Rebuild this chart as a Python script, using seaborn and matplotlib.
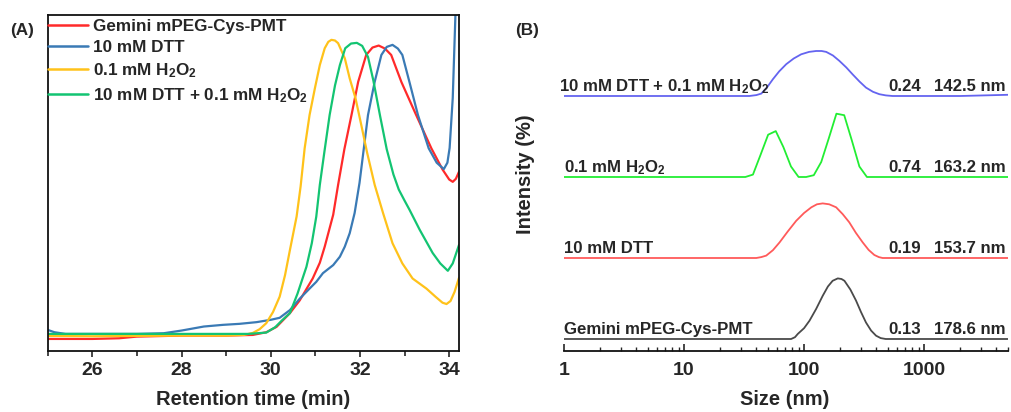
import numpy as np
import pandas as pd
import matplotlib
matplotlib.use("Agg")
import matplotlib.pyplot as plt
import seaborn as sns

# ---------------- Panel A data (GPC traces, retention time in min, normalized signal) -------------
gemini_t = [25.0, 26.0, 26.6, 27.0, 28.0, 29.0, 29.6, 29.9, 30.13, 30.43, 30.65, 30.94, 31.10, 31.21,
            31.40, 31.51, 31.65, 31.81, 31.96, 32.14, 32.28, 32.42, 32.56, 32.70, 32.93, 33.26, 33.60,
            33.85, 34.00, 34.08, 34.15, 34.22]
gemini_y = [0.035, 0.035, 0.037, 0.042, 0.045, 0.045, 0.047, 0.055, 0.071, 0.112, 0.150, 0.215, 0.262, 0.310,
            0.405, 0.494, 0.600, 0.702, 0.801, 0.881, 0.903, 0.909, 0.900, 0.881, 0.800, 0.702, 0.603,
            0.540, 0.510, 0.503, 0.512, 0.533]

dtt_t = [25.0, 25.15, 25.4, 26.0, 27.0, 27.6, 28.0, 28.5, 28.93, 29.3, 29.68, 30.0, 30.2, 30.43, 30.65,
         30.87, 31.02, 31.17, 31.40, 31.55, 31.66, 31.77, 31.88, 31.99, 32.18, 32.33, 32.48, 32.60, 32.73,
         32.85, 32.95, 33.11, 33.30, 33.54, 33.72, 33.88, 33.96, 34.01, 34.08, 34.14, 34.17]
dtt_y = [0.062, 0.055, 0.050, 0.050, 0.050, 0.052, 0.060, 0.072, 0.077, 0.080, 0.085, 0.092, 0.098, 0.121, 0.155,
         0.185, 0.205, 0.231, 0.255, 0.280, 0.310, 0.350, 0.410, 0.500, 0.702, 0.801, 0.881, 0.905, 0.911,
         0.900, 0.881, 0.800, 0.702, 0.603, 0.560, 0.541, 0.560, 0.604, 0.753, 1.000, 1.100]

h2o2_t = [25.0, 26.0, 27.0, 28.0, 29.0, 29.4, 29.6, 29.75, 29.9, 30.05, 30.2, 30.32, 30.43, 30.58, 30.67,
          30.76, 30.87, 30.99, 31.10, 31.21, 31.29, 31.36, 31.44, 31.51, 31.66, 31.77, 31.90, 32.03, 32.16,
          32.33, 32.52, 32.73, 32.95, 33.18, 33.49, 33.70, 33.85, 33.94, 34.03, 34.12, 34.22]
h2o2_y = [0.044, 0.043, 0.044, 0.045, 0.045, 0.047, 0.053, 0.064, 0.082, 0.115, 0.161, 0.225, 0.300, 0.400, 0.490,
          0.603, 0.702, 0.782, 0.851, 0.901, 0.920, 0.926, 0.924, 0.916, 0.871, 0.811, 0.752, 0.672, 0.590,
          0.494, 0.409, 0.320, 0.260, 0.215, 0.185, 0.160, 0.143, 0.139, 0.148, 0.175, 0.217]

mix_t = [25.0, 26.0, 27.0, 28.0, 29.0, 29.5, 29.9, 30.1, 30.25, 30.43, 30.6, 30.8, 30.92, 31.02, 31.10,
         31.20, 31.32, 31.44, 31.55, 31.67, 31.80, 31.93, 32.05, 32.18, 32.30, 32.45, 32.60, 32.75, 32.87,
         33.00, 33.11, 33.34, 33.63, 33.80, 33.97, 34.08, 34.22]
mix_y = [0.050, 0.050, 0.050, 0.050, 0.050, 0.050, 0.054, 0.070, 0.090, 0.112, 0.170, 0.250, 0.320, 0.399, 0.494,
         0.590, 0.702, 0.790, 0.851, 0.901, 0.915, 0.917, 0.908, 0.875, 0.805, 0.700, 0.600, 0.525, 0.480,
         0.447, 0.420, 0.360, 0.291, 0.260, 0.238, 0.260, 0.315]

legend_labels = ["Gemini mPEG-Cys-PMT", "10 mM DTT", "0.1 mM H$_2$O$_2$", "10 mM DTT + 0.1 mM H$_2$O$_2$"]
colors_a = ["#ff2a2a", "#3a7ab5", "#ffc21a", "#13c472"]
xticks_a = [26, 28, 30, 32, 34]

# ---------------- Panel B data (DLS size distributions, intensity %) -------------
black_size = [1, 78, 84, 88.7, 100, 111, 126, 143, 158, 173, 191, 205, 217, 243, 271, 298, 328, 362, 398,
              435, 479, 5000]
black_int = [0, 0, 0.6, 1.7, 3.6, 6.1, 10.0, 14.4, 17.5, 19.4, 20.2, 20.0, 19.4, 16.5, 12.8, 9.0, 5.5, 2.8, 1.1,
             0.3, 0, 0]

red_size = [1, 40, 44, 48.4, 55, 62.5, 73, 86, 100, 115, 128, 143, 162, 185, 210, 238, 270, 308, 345, 385,
            420, 451, 5000]
red_int = [0, 0, 0.3, 0.8, 2.6, 5.2, 8.8, 12.4, 15.0, 16.9, 17.9, 18.2, 17.9, 16.9, 14.6, 11.9, 8.4, 5.2, 2.7, 1.0,
           0.3, 0, 0]

green_size = [1, 32.4, 37.5, 43.4, 50.2, 58.1, 67.2, 77.8, 90, 104, 120.5, 139, 161, 186, 216, 250, 289, 334, 5000]
green_int = [0, 0, 0.8, 7.4, 14.1, 15.3, 10.0, 3.5, 0, 0, 0.6, 5.0, 13.0, 21.1, 20.6, 12.2, 3.5, 0, 0]

blue_size = [1, 35, 40, 44, 49, 55, 62, 71, 82, 94.6, 110, 126, 140, 153, 174, 197, 225, 254, 290, 328, 375,
             424, 480, 546, 2000, 5000]
blue_int = [0, 0, 0.3, 0.8, 2.8, 5.6, 8.2, 10.6, 12.5, 13.9, 14.7, 15.0, 15.0, 14.7, 13.5, 11.7, 9.5, 7.2, 4.8,
            2.8, 1.4, 0.6, 0.2, 0, 0, 0.4]

dls_names = ["Gemini mPEG-Cys-PMT", "10 mM DTT", "0.1 mM H$_2$O$_2$", "10 mM DTT + 0.1 mM H$_2$O$_2$"]
dls_pdi = ["0.13", "0.19", "0.74", "0.24"]
dls_size = ["178.6 nm", "153.7 nm", "163.2 nm", "142.5 nm"]
dls_offsets = [0, 27, 54, 81]
colors_b = ["#4a4a4a", "#ff5a5a", "#22ee33", "#6464f0"]
xticks_b = [1, 10, 100, 1000]

# ---------------- style -------------
sns.set_style("ticks")
plt.rcParams["font.family"] = ["Liberation Sans", "DejaVu Sans"]
plt.rcParams["font.weight"] = "bold"
plt.rcParams["mathtext.fontset"] = "custom"
plt.rcParams["mathtext.rm"] = "Liberation Sans:bold"
plt.rcParams["mathtext.bf"] = "Liberation Sans:bold"
plt.rcParams["mathtext.it"] = "Liberation Sans:bold"
plt.rcParams["mathtext.default"] = "rm"

fig = plt.figure(figsize=(10.11, 4.12), dpi=100)
axA = fig.add_axes([0.0472, 0.1488, 0.4068, 0.8148])
axB = fig.add_axes([0.5579, 0.1488, 0.4391, 0.8148])

# ---- Panel A ----
series_a = [(gemini_t, gemini_y), (dtt_t, dtt_y), (h2o2_t, h2o2_y), (mix_t, mix_y)]
for (t, y), lab, c in zip(series_a, legend_labels, colors_a):
    df = pd.DataFrame({"t": t, "y": y})
    sns.lineplot(data=df, x="t", y="y", ax=axA, color=c, lw=1.6, label=lab, sort=False, estimator=None)
axA.set_xlim(25.0, 34.22)
axA.set_ylim(0, 1)
axA.set_xticks(xticks_a)
axA.set_xticks([25, 27, 29, 31, 33], minor=True)
axA.set_xticklabels([str(v) for v in xticks_a], fontsize=14, fontweight="bold")
axA.set_yticks([])
axA.tick_params(axis="x", which="major", direction="out", length=4, width=1.2, pad=4)
axA.tick_params(axis="x", which="minor", direction="out", length=3.5, width=1.2)
for s in axA.spines.values():
    s.set_linewidth(1.3)
    s.set_color("#111111")
axA.set_xlabel("Retention time (min)", fontsize=14.5, fontweight="bold", va="top")
axA.xaxis.set_label_coords(0.499, -0.118)
axA.set_ylabel("")
leg = axA.legend(loc="upper left", bbox_to_anchor=(-0.0097, 1.0), frameon=False, fontsize=12.3,
                 borderpad=0.0, borderaxespad=0.24, handlelength=2.35, handletextpad=0.3,
                 labelspacing=0.36)
for txt in leg.get_texts():
    txt.set_fontweight("bold")
for ln in leg.get_lines():
    ln.set_linewidth(1.8)

# ---- Panel B ----
series_b = [(black_size, black_int), (red_size, red_int), (green_size, green_int), (blue_size, blue_int)]
for (sz, it), off, c in zip(series_b, dls_offsets, colors_b):
    df = pd.DataFrame({"size": sz, "intensity": np.array(it) + off})
    sns.lineplot(data=df, x="size", y="intensity", ax=axB, color=c, lw=1.3, sort=False, estimator=None)
axB.set_xscale("log")
axB.set_xlim(1, 5000)
axB.set_ylim(-3.9, 108)
axB.set_xticks(xticks_b)
axB.set_xticklabels([str(v) for v in xticks_b], fontsize=14, fontweight="bold")
axB.set_yticks([])
axB.tick_params(axis="x", which="major", direction="in", length=5, width=1.2, pad=8)
axB.tick_params(axis="x", which="minor", direction="in", length=3, width=1.0)
for side in ["top", "right", "left"]:
    axB.spines[side].set_visible(False)
axB.spines["bottom"].set_linewidth(1.3)
axB.spines["bottom"].set_color("#111111")
axB.set_xlabel("Size (nm)", fontsize=14.5, fontweight="bold", va="top")
axB.xaxis.set_label_coords(0.498, -0.118)
axB.set_ylabel("Intensity (%)", fontsize=14.5, fontweight="bold")
axB.yaxis.set_label_coords(-0.066, 0.526)

for name, pdi, size, off in zip(dls_names, dls_pdi, dls_size, dls_offsets):
    axB.text(0.905 if off == 81 else 1.0, off + 1.7, name, fontsize=12.1, fontweight="bold", ha="left", va="baseline")
    axB.text(690, off + 1.7, pdi, fontsize=12.1, fontweight="bold", ha="center", va="baseline")
    axB.text(2400, off + 1.7, size, fontsize=12.1, fontweight="bold", ha="center", va="baseline")

fig.text(0.022, 0.927, "(A)", fontsize=12.3, fontweight="bold", ha="center", va="center")
fig.text(0.521, 0.927, "(B)", fontsize=12.3, fontweight="bold", ha="center", va="center")

fig.savefig("out.png", dpi=100)
